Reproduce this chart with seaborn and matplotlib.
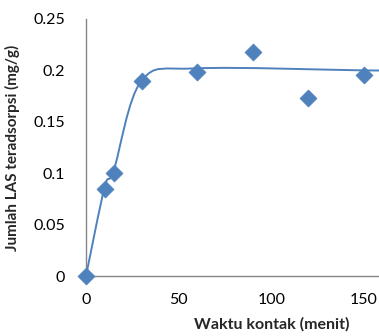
"""
Adsorpsi LAS terhadap waktu kontak – scatter + garis halus (gaya Excel)
"""
import matplotlib
matplotlib.use("Agg")
import matplotlib.pyplot as plt
import seaborn as sns
from matplotlib.path import Path
from matplotlib.patches import PathPatch

# ------------------------------------------------------------------
# Data
# ------------------------------------------------------------------
waktu = [0, 10, 15, 30, 60, 90, 120, 150]                 # menit
las = [0, 0.085, 0.1, 0.19, 0.198, 0.218, 0.173, 0.196]   # mg/g

# titik kendali garis tren (garis halus Excel)
tren_x = [0, 10, 15, 30, 60, 150, 160]
tren_y = [0, 0.086, 0.103, 0.19, 0.202, 0.2, 0.2]

x_ticks = [0, 50, 100, 150]
y_ticks = [0, 0.05, 0.1, 0.15, 0.2, 0.25]
y_labels = ["0", "0.05", "0.1", "0.15", "0.2", "0.25"]

biru = "#4F81BD"
abu = "#868686"

sns.set_theme(style="white")
plt.rcParams["font.family"] = ["Lato", "DejaVu Sans"]

fig = plt.figure(figsize=(3.79, 3.36), dpi=100)
ax = fig.add_axes([86 / 379, 1 - 276 / 336, 293 / 379, 257 / 336])

# garis halus: bezier kubik ala Excel (tangen = (P[i+1]-P[i-1])/6)
pts = list(zip(tren_x, tren_y))
verts = [pts[0]]
codes = [Path.MOVETO]
for i in range(len(pts) - 1):
    p0 = pts[i - 1] if i > 0 else pts[i]
    p1 = pts[i]
    p2 = pts[i + 1]
    p3 = pts[i + 2] if i + 2 < len(pts) else pts[i + 1]
    c1 = (p1[0] + (p2[0] - p0[0]) / 6, p1[1] + (p2[1] - p0[1]) / 6)
    c2 = (p2[0] - (p3[0] - p1[0]) / 6, p2[1] - (p3[1] - p1[1]) / 6)
    verts += [c1, c2, p2]
    codes += [Path.CURVE4] * 3
ax.add_patch(PathPatch(Path(verts, codes), facecolor="none",
                       edgecolor=biru, linewidth=1.4, zorder=2))

sns.scatterplot(x=waktu, y=las, marker="D", s=75, color=biru,
                edgecolor=biru, linewidth=0.5, ax=ax, zorder=3, clip_on=False)

ax.set_xlim(0, 293 / 1.853)
ax.set_ylim(0, 0.25)
ax.set_xticks(x_ticks)
ax.set_yticks(y_ticks)
ax.set_yticklabels(y_labels)

for side in ["top", "right"]:
    ax.spines[side].set_visible(False)
for side in ["left", "bottom"]:
    ax.spines[side].set_color(abu)
    ax.spines[side].set_linewidth(1.0)

ax.tick_params(axis="both", direction="out", length=5, width=1,
               color=abu, labelsize=11.5, labelcolor="black", pad=4)
ax.tick_params(axis="x", pad=7)
ax.tick_params(axis="y", pad=10)

ax.set_xlabel("Waktu kontak (menit)", fontsize=11.5, fontweight="bold")
ax.set_ylabel("Jumlah LAS teradsorpsi (mg/g)", fontsize=11, fontweight="bold")
ax.xaxis.set_label_coords(0.635, -0.16)
ax.yaxis.set_label_coords(-0.227 * 379 / 293 + 20 / 293, 0.5)

fig.savefig("out.png", dpi=100)
